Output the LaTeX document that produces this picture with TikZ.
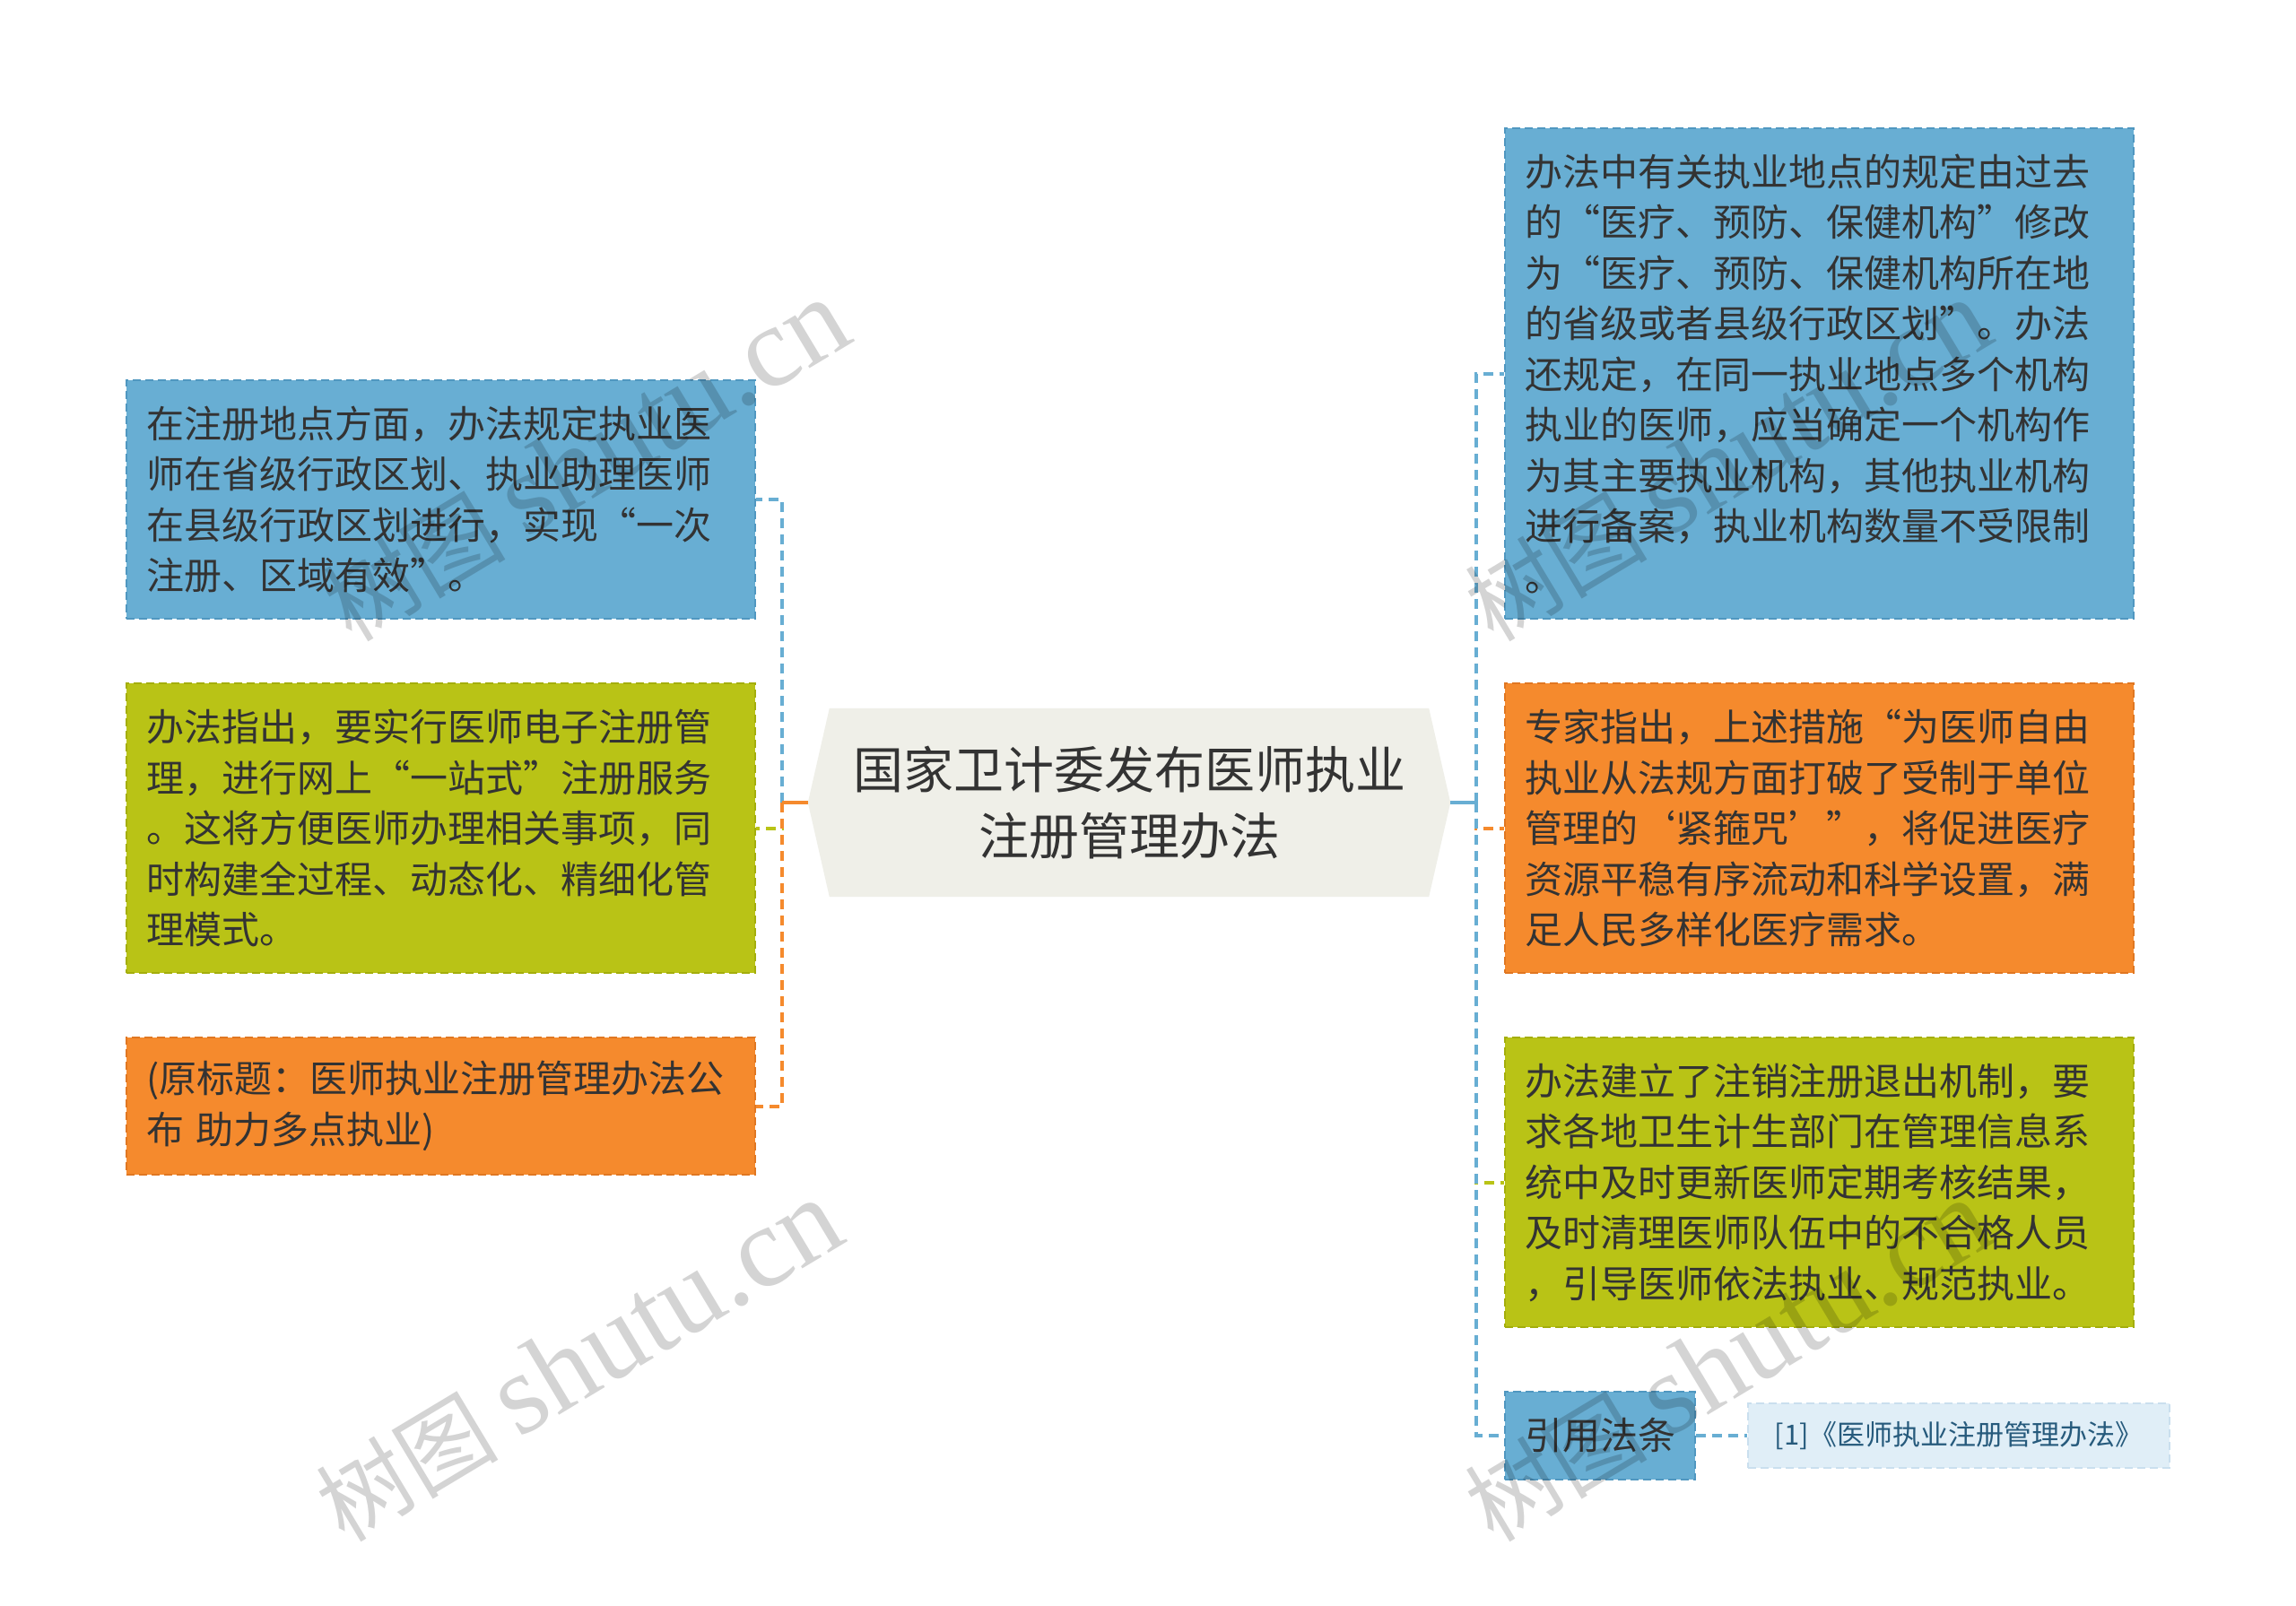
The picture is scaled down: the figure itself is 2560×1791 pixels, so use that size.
\documentclass[tikz,border=0pt]{standalone}
\usepackage{fontspec}
\setmainfont{Noto Sans CJK SC}
\newfontfamily\wmlatin{Liberation Serif}
\usetikzlibrary{backgrounds}
\definecolor{cblue}{HTML}{68AED3}
\definecolor{cbluedk}{HTML}{5097C0}
\definecolor{cgreen}{HTML}{B9C316}
\definecolor{cgreendk}{HTML}{A4AE0C}
\definecolor{corange}{HTML}{F58A2D}
\definecolor{corangedk}{HTML}{E07722}
\definecolor{ccenter}{HTML}{EFEFE8}
\definecolor{cref}{HTML}{E0EEF7}
\definecolor{crefdk}{HTML}{CADFEE}
\definecolor{ctext}{HTML}{333333}
\definecolor{creftext}{HTML}{265A7C}
\begin{document}
\begin{tikzpicture}[x=1pt,y=-1pt,
  card/.style={rectangle, anchor=north west, draw, line width=2pt,
    dash pattern=on 9pt off 5pt, inner xsep=22pt, inner ysep=0pt,
    text width=657pt, align=left, text=ctext,
    font=\fontsize{42}{56.5}\selectfont},
  bluecard/.style={card, fill=cblue, draw=cbluedk},
  greencard/.style={card, fill=cgreen, draw=cgreendk},
  orangecard/.style={card, fill=corange, draw=corangedk},
  refcard/.style={rectangle, anchor=north west, fill=cref, draw=crefdk,
    line width=2pt, dash pattern=on 9pt off 5pt, inner sep=0pt,
    text=creftext, font=\fontsize{31}{36}\selectfont},
  rootbox/.style={rectangle, inner sep=0pt, align=center, text=ctext,
    minimum width=716pt, minimum height=210pt,
    font=\fontsize{56}{74}\selectfont},
  link/.style={line width=4pt, dash pattern=on 11pt off 7pt},
  stub/.style={line width=4pt},
  wm/.style={text=black, text opacity=0.17, inner sep=0pt,
    font=\fontsize{102}{104}\selectfont}]

\useasboundingbox (0,0) rectangle (2560,1791);

% central node
\node[rootbox] (root) at (1259,895) {国家卫计委发布医师执业\\注册管理办法};
\begin{scope}[on background layer]
  \fill[white] (0,0) rectangle (2560,1791);
  \fill[ccenter] (root.west) -- ([xshift=24pt]root.north west)
    -- ([xshift=-24pt]root.north east) -- (root.east)
    -- ([xshift=-24pt]root.south east) -- ([xshift=24pt]root.south west) -- cycle;
\end{scope}

% left children
\node[bluecard, minimum height=266pt] (L1) at (140,423)
  {在注册地点方面，办法规定执业医\\师在省级行政区划、执业助理医师\\在县级行政区划进行，实现“一次\\注册、区域有效”。};
\node[greencard, minimum height=323pt] (L2) at (140,761)
  {办法指出，要实行医师电子注册管\\理，进行网上“一站式”注册服务\\。这将方便医师办理相关事项，同\\时构建全过程、动态化、精细化管\\理模式。};
\node[orangecard, minimum height=153pt] (L3) at (140,1156)
  {(原标题：医师执业注册管理办法公\\布 助力多点执业)};

% right children
\node[bluecard, minimum height=547pt] (R1) at (1677,142)
  {办法中有关执业地点的规定由过去\\的“医疗、预防、保健机构”修改\\为“医疗、预防、保健机构所在地\\的省级或者县级行政区划”。办法\\还规定，在同一执业地点多个机构\\执业的医师，应当确定一个机构作\\为其主要执业机构，其他执业机构\\进行备案，执业机构数量不受限制\\。};
\node[orangecard, minimum height=323pt] (R2) at (1677,761)
  {专家指出，上述措施“为医师自由\\执业从法规方面打破了受制于单位\\管理的‘紧箍咒’”，将促进医疗\\资源平稳有序流动和科学设置，满\\足人民多样化医疗需求。};
\node[greencard, minimum height=323pt] (R3) at (1677,1156)
  {办法建立了注销注册退出机制，要\\求各地卫生计生部门在管理信息系\\统中及时更新医师定期考核结果，\\及时清理医师队伍中的不合格人员\\，引导医师依法执业、规范执业。};
\node[bluecard, text width=168pt, minimum height=98pt] (R4) at (1677,1551) {引用法条};
\node[refcard, minimum width=470pt, minimum height=72pt] (R5) at (1948,1564)
  {[1]《医师执业注册管理办法》};

% junctions
\coordinate (jl) at (872,895);
\coordinate (jr) at (1646,895);

% left connectors
\draw[link, cblue] (jl) |- (L1.east);
\draw[link, cgreen] (jl) |- (L2.east);
\draw[link, corange] (jl) |- (L3.east);
\draw[stub, corange] (root.west) -- (jl);

% right connectors
\draw[link, cblue] (jr) |- (R1.west);
\draw[link, corange] (jr) |- (R2.west);
\draw[link, cgreen] (jr) |- (R3.west);
\draw[link, cblue] (jr) |- (R4.west);
\draw[stub, cblue] (root.east) -- (jr);
\draw[link, cblue] (R4.east) -- (R5.west);

% watermarks
\node[wm, rotate=31] (wm1) at (653,514) {树图 {\wmlatin\fontsize{128}{128}\selectfont shutu.cn}};
\node[wm, rotate=31] (wm2) at (645,1518) {树图 {\wmlatin\fontsize{128}{128}\selectfont shutu.cn}};
\node[wm, rotate=31] (wm3) at (1926,514) {树图 {\wmlatin\fontsize{128}{128}\selectfont shutu.cn}};
\node[wm, rotate=31] (wm4) at (1926,1518) {树图 {\wmlatin\fontsize{128}{128}\selectfont shutu.cn}};
\end{tikzpicture}
\end{document}
